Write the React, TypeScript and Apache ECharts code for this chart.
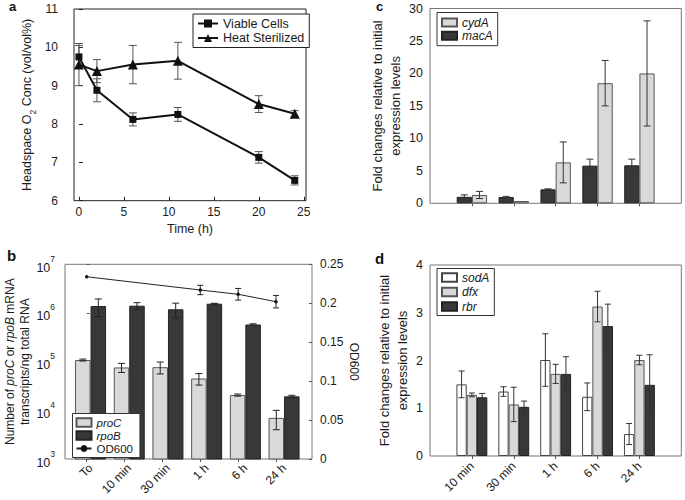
import React, { useEffect, useRef } from 'react';
import * as echarts from 'echarts';

// ---------- Panel a ----------
const timeH = [0, 2, 6, 11, 20, 24];
const viableCells = [9.75, 8.88, 8.12, 8.25, 7.13, 6.53];
const viableErr = [0.3, 0.3, 0.17, 0.18, 0.15, 0.12];
const heatSterilized = [9.55, 9.38, 9.55, 9.65, 8.52, 8.27];
const heatErr = [0.55, 0.3, 0.5, 0.48, 0.22, 0.08];
const aTicks = [0, 5, 10, 15, 20, 25];

// ---------- Panel b ----------
const bCategories = ['To', '10 min', '30 min', '1 h', '6 h', '24 h'];
const proC = [1.08e5, 7.6e4, 7.7e4, 4.5e4, 2.06e4, 7.0e3];
const proCErr = [5e3, 1.6e4, 2.1e4, 1.2e4, 1e3, 3e3];
const rpoB = [1.39e6, 1.41e6, 1.19e6, 1.55e6, 5.8e5, 1.94e4];
const rpoBErr = [5.5e5, 2.2e5, 4.0e5, 3e4, 2e4, 1e3];
const od600 = [0.234, null, null, 0.217, 0.2115, 0.202];
const od600Err = [0, null, null, 0.006, 0.0075, 0.008];

// ---------- Panels c, d ----------
const cdCategories = ['10 min', '30 min', '1 h', '6 h', '24 h'];
const cydA = [1.28, 0.35, 6.3, 18.5, 20.0];
const cydAErr = [0.55, 0, 3.15, 3.5, 8.1];
const macA = [1.0, 0.97, 2.15, 5.8, 5.85];
const macAErr = [0.3, 0.1, 0.08, 1.0, 0.95];
const sodA = [1.5, 1.35, 2.01, 1.24, 0.46];
const sodAErr = [0.28, 0.1, 0.55, 0.29, 0.22];
const dfx = [1.28, 1.08, 1.72, 3.13, 2.01];
const dfxErr = [0.04, 0.36, 0.2, 0.32, 0.1];
const rbr = [1.23, 1.03, 1.72, 2.72, 1.49];
const rbrErr = [0.08, 0.12, 0.36, 0.46, 0.63];

const FONT = 'Liberation Sans, Arial, Helvetica, sans-serif';
const LIGHT = '#d9d9d9';
const DARK = '#383838';
const TXT = '#1a1a1a';

type ErrItem = [number, number, number];

function errorSeries(
  name: string,
  xAxisIndex: number,
  yAxisIndex: number,
  data: ErrItem[],
  offset: number,
  cap: number,
  color: string
) {
  return {
    type: 'custom',
    name,
    xAxisIndex,
    yAxisIndex,
    silent: true,
    z: 5,
    data,
    encode: { x: 0, y: [1, 2] },
    renderItem: (_p: any, api: any) => {
      const x = api.value(0);
      const lo = api.coord([x, api.value(1)]);
      const hi = api.coord([x, api.value(2)]);
      const cx = lo[0] + offset;
      const style = { stroke: color, lineWidth: 1, fill: 'none' };
      return {
        type: 'group',
        children: [
          { type: 'line', shape: { x1: cx, y1: lo[1], x2: cx, y2: hi[1] }, style },
          { type: 'line', shape: { x1: cx - cap / 2, y1: lo[1], x2: cx + cap / 2, y2: lo[1] }, style },
          { type: 'line', shape: { x1: cx - cap / 2, y1: hi[1], x2: cx + cap / 2, y2: hi[1] }, style },
        ],
      };
    },
  };
}

function errs(vals: (number | null)[], e: (number | null)[], xs: number[]): ErrItem[] {
  const out: ErrItem[] = [];
  vals.forEach((v, i) => {
    const er = e[i];
    if (v == null || er == null || er <= 0) return;
    out.push([xs[i], v - er, v + er]);
  });
  return out;
}

const pad = (arr: number[]) => [null, ...arr, null];
const cdAxisData = ['', ...cdCategories, ''];
const cdIdx = cdCategories.map((_, i) => i + 1);
const inner = (i: number) => i > 0 && i < cdAxisData.length - 1;

const legendText = (size: number, italic: boolean) => ({
  fontSize: size,
  fontStyle: italic ? 'italic' : 'normal',
  color: TXT,
  fontFamily: FONT,
});

function buildOption(): any {
  const bIdx = bCategories.map((_, i) => i);
  const odData = od600
    .map((v, i) => (v == null ? null : [i, v]))
    .filter((d) => d != null);

  return {
    animation: false,
    backgroundColor: '#fff',
    textStyle: { fontFamily: FONT, color: TXT },
    grid: [
      { left: 74, top: 9, width: 232, height: 191.7, show: true, borderColor: '#222', borderWidth: 1, backgroundColor: 'transparent' },
      { left: 65, top: 264.3, width: 247, height: 194.7, show: true, borderColor: '#777', borderWidth: 1, backgroundColor: 'transparent' },
      { left: 71.2, top: 264.3, width: 232.2, height: 194.7, show: false },
      { left: 430, top: 8.5, width: 251.3, height: 194.8, show: true, borderColor: '#777', borderWidth: 1, backgroundColor: 'transparent' },
      { left: 430, top: 265, width: 251.3, height: 191, show: true, borderColor: '#777', borderWidth: 1, backgroundColor: 'transparent' },
    ],
    xAxis: [
      {
        type: 'value', gridIndex: 0, min: -0.55, max: 25.25,
        axisLine: { show: false }, splitLine: { show: false },
        axisTick: { inside: true, length: 4, lineStyle: { color: '#222' }, customValues: aTicks },
        axisLabel: { fontSize: 12, color: TXT, margin: 5, customValues: aTicks },
        name: 'Time (h)', nameLocation: 'middle', nameGap: 22,
        nameTextStyle: { fontSize: 12.5, color: TXT },
      },
      {
        type: 'value', gridIndex: 1, position: 'top', min: -0.573, max: 5.951,
        axisLine: { show: false }, splitLine: { show: false },
        axisTick: { inside: true, length: 3, lineStyle: { color: '#555' }, customValues: bIdx },
        axisLabel: { show: false },
      },
      {
        type: 'category', gridIndex: 2, data: bCategories,
        axisLine: { show: false }, axisTick: { show: false },
        axisLabel: { rotate: 45, fontSize: 12, color: TXT, margin: 7, interval: 0 },
      },
      {
        type: 'category', gridIndex: 3, data: cdAxisData, boundaryGap: false,
        axisLine: { show: false },
        axisTick: { show: true, inside: false, length: 3, interval: (i: number) => inner(i), lineStyle: { color: '#555' } },
        axisLabel: { show: false },
      },
      {
        type: 'category', gridIndex: 4, data: cdAxisData, boundaryGap: false,
        axisLine: { show: false },
        axisTick: { show: true, inside: false, length: 3, interval: (i: number) => inner(i), lineStyle: { color: '#555' } },
        axisLabel: { rotate: 45, fontSize: 12, color: TXT, margin: 8, interval: (i: number) => inner(i) },
      },
    ],
    yAxis: [
      {
        type: 'value', gridIndex: 0, min: 6, max: 11, interval: 1,
        axisLine: { show: false }, splitLine: { show: false },
        axisTick: { inside: true, length: 4, lineStyle: { color: '#222' } },
        axisLabel: { fontSize: 12, color: TXT, margin: 16 },
        name: '{n|Headspace O}{s|2}{n| Conc (vol/vol%)}',
        nameLocation: 'middle', nameGap: 37,
        nameTextStyle: {
          rich: {
            n: { fontSize: 12.5, color: TXT, verticalAlign: 'top', lineHeight: 17, fontFamily: FONT },
            s: { fontSize: 8.5, color: TXT, verticalAlign: 'bottom', lineHeight: 17, fontFamily: FONT },
          },
        },
      },
      {
        type: 'log', gridIndex: 1, min: 1e3, max: 1e7, logBase: 10,
        axisLine: { show: false }, splitLine: { show: false },
        axisTick: { inside: true, length: 3, lineStyle: { color: '#555' } },
        axisLabel: {
          margin: 10,
          formatter: (v: number) => '{b|10}{s|' + String(Math.round(Math.log10(v))) + '}',
          rich: {
            b: { fontSize: 12.5, color: TXT, verticalAlign: 'bottom', lineHeight: 20, fontFamily: FONT },
            s: { fontSize: 8.5, color: TXT, verticalAlign: 'top', lineHeight: 20, fontFamily: FONT },
          },
        },
        name: 'Number of {i|proC} or {i|rpoB} mRNA\ntranscripts/ng total RNA',
        nameLocation: 'middle', nameGap: 32,
        nameTextStyle: {
          fontSize: 12, color: TXT, lineHeight: 15,
          rich: { i: { fontSize: 12, fontStyle: 'italic', color: TXT, lineHeight: 15, fontFamily: FONT } },
        },
      },
      {
        type: 'value', gridIndex: 1, position: 'right', min: 0, max: 0.25, interval: 0.05,
        axisLine: { show: false }, splitLine: { show: false },
        axisTick: { inside: true, length: 3, lineStyle: { color: '#555' } },
        axisLabel: { fontSize: 12, color: TXT, margin: 8 },
        name: 'OD600', nameLocation: 'middle', nameGap: 36, nameRotate: -90,
        nameTextStyle: { fontSize: 12, color: TXT },
      },
      {
        type: 'log', gridIndex: 2, min: 1e3, max: 1e7, logBase: 10, show: false,
      },
      {
        type: 'value', gridIndex: 3, min: 0, max: 30, interval: 5,
        axisLine: { show: false }, splitLine: { show: false },
        axisTick: { show: false },
        axisLabel: { fontSize: 12.5, color: TXT, margin: 7 },
        name: 'Fold changes relative to initial\nexpression levels',
        nameLocation: 'middle', nameGap: 26,
        nameTextStyle: { fontSize: 13, color: TXT, lineHeight: 18 },
      },
      {
        type: 'value', gridIndex: 4, min: 0, max: 4, interval: 1,
        axisLine: { show: false }, splitLine: { show: false },
        axisTick: { show: false },
        axisLabel: { fontSize: 12.5, color: TXT, margin: 7 },
        name: 'Fold changes relative to initial\nexpression levels',
        nameLocation: 'middle', nameGap: 19,
        nameTextStyle: { fontSize: 13, color: TXT, lineHeight: 18 },
      },
    ],
    legend: [
      {
        orient: 'vertical', left: 193, top: 14, padding: [3, 5, 3, 4], itemGap: 1.5,
        itemWidth: 20, itemHeight: 10, borderColor: '#222', borderWidth: 1, backgroundColor: '#fff',
        textStyle: legendText(12.5, false), selectedMode: false,
        data: ['Viable Cells', 'Heat Sterilized'],
      },
      {
        orient: 'vertical', left: 72.5, top: 413.5, padding: [3, 7, 3, 3], itemGap: 1,
        itemWidth: 15, itemHeight: 8.5, borderColor: '#333', borderWidth: 1, backgroundColor: '#fff',
        textStyle: legendText(11.5, true), selectedMode: false,
        data: [
          { name: 'proC', icon: 'rect' },
          { name: 'rpoB', icon: 'rect' },
          { name: 'OD600', textStyle: legendText(11.5, false) },
        ],
      },
      {
        orient: 'vertical', left: 437, top: 12.5, padding: [4, 5, 4, 4], itemGap: 1.2,
        itemWidth: 15, itemHeight: 8, borderColor: '#333', borderWidth: 1, backgroundColor: '#fff',
        textStyle: legendText(12, true), selectedMode: false, icon: 'rect',
        data: ['cydA', 'macA'],
      },
      {
        orient: 'vertical', left: 437, top: 268.5, padding: [3, 5, 3, 4], itemGap: 2.5,
        itemWidth: 15, itemHeight: 8.5, borderColor: '#333', borderWidth: 1, backgroundColor: '#fff',
        textStyle: legendText(12, true), selectedMode: false, icon: 'rect',
        data: ['sodA', 'dfx', 'rbr'],
      },
    ],
    series: [
      // Panel a
      errorSeries('errViable', 0, 0, errs(viableCells, viableErr, timeH), 0, 8, '#555'),
      errorSeries('errHeat', 0, 0, errs(heatSterilized, heatErr, timeH), 0, 8, '#555'),
      {
        type: 'line', name: 'Viable Cells', xAxisIndex: 0, yAxisIndex: 0, z: 6,
        data: timeH.map((t, i) => [t, viableCells[i]]),
        symbol: 'rect', symbolSize: 7, color: '#111',
        lineStyle: { width: 2, color: '#111' }, itemStyle: { color: '#111' },
      },
      {
        type: 'line', name: 'Heat Sterilized', xAxisIndex: 0, yAxisIndex: 0, z: 6,
        data: timeH.map((t, i) => [t, heatSterilized[i]]),
        symbol: 'triangle', symbolSize: 10, color: '#111',
        lineStyle: { width: 2, color: '#111' }, itemStyle: { color: '#111' },
      },
      // Panel b
      {
        type: 'bar', name: 'proC', xAxisIndex: 2, yAxisIndex: 3, data: proC,
        barWidth: 15.5, barGap: '0%', clip: true,
        itemStyle: { color: LIGHT, borderColor: '#555', borderWidth: 1 },
      },
      {
        type: 'bar', name: 'rpoB', xAxisIndex: 2, yAxisIndex: 3, data: rpoB,
        barWidth: 15.5, barGap: '0%', clip: true,
        itemStyle: { color: DARK, borderColor: '#222', borderWidth: 1 },
      },
      errorSeries('errProC', 2, 3, errs(proC, proCErr, bIdx), -7.75, 7, '#222'),
      errorSeries('errRpoB', 2, 3, errs(rpoB, rpoBErr, bIdx), 7.75, 7, '#222'),
      {
        type: 'line', name: 'OD600', xAxisIndex: 1, yAxisIndex: 2, z: 6,
        data: odData, symbol: 'circle', symbolSize: 3.5, color: '#111',
        lineStyle: { width: 1, color: '#222' }, itemStyle: { color: '#111' },
      },
      errorSeries('errOD', 1, 2, errs(od600, od600Err, bIdx), 0, 6, '#222'),
      // Panel c
      {
        type: 'bar', name: 'macA', xAxisIndex: 3, yAxisIndex: 4, data: pad(macA),
        barWidth: 15.2, barGap: '0%',
        itemStyle: { color: DARK, borderColor: '#222', borderWidth: 1 },
      },
      {
        type: 'bar', name: 'cydA', xAxisIndex: 3, yAxisIndex: 4, data: pad(cydA),
        barWidth: 15.2, barGap: '0%',
        itemStyle: { color: LIGHT, borderColor: '#555', borderWidth: 1 },
      },
      errorSeries('errMacA', 3, 4, errs(macA, macAErr, cdIdx), -7.6, 7, '#333'),
      errorSeries('errCydA', 3, 4, errs(cydA, cydAErr, cdIdx), 7.6, 7, '#333'),
      // Panel d
      {
        type: 'bar', name: 'sodA', xAxisIndex: 4, yAxisIndex: 5, data: pad(sodA),
        barWidth: 10.3, barGap: '0%',
        itemStyle: { color: '#fff', borderColor: '#444', borderWidth: 1 },
      },
      {
        type: 'bar', name: 'dfx', xAxisIndex: 4, yAxisIndex: 5, data: pad(dfx),
        barWidth: 10.3, barGap: '0%',
        itemStyle: { color: LIGHT, borderColor: '#555', borderWidth: 1 },
      },
      {
        type: 'bar', name: 'rbr', xAxisIndex: 4, yAxisIndex: 5, data: pad(rbr),
        barWidth: 10.3, barGap: '0%',
        itemStyle: { color: DARK, borderColor: '#222', borderWidth: 1 },
      },
      errorSeries('errSodA', 4, 5, errs(sodA, sodAErr, cdIdx), -10.3, 6, '#333'),
      errorSeries('errDfx', 4, 5, errs(dfx, dfxErr, cdIdx), 0, 6, '#333'),
      errorSeries('errRbr', 4, 5, errs(rbr, rbrErr, cdIdx), 10.3, 6, '#333'),
    ],
    graphic: [
      { type: 'text', left: 9, top: 0, style: { text: 'a', fontSize: 13, fontWeight: 'bold', fill: '#111', fontFamily: FONT } },
      { type: 'text', left: 7, top: 248, style: { text: 'b', fontSize: 15, fontWeight: 'bold', fill: '#111', fontFamily: FONT } },
      { type: 'text', left: 376, top: 0, style: { text: 'c', fontSize: 13, fontWeight: 'bold', fill: '#111', fontFamily: FONT } },
      { type: 'text', left: 375, top: 251, style: { text: 'd', fontSize: 15, fontWeight: 'bold', fill: '#111', fontFamily: FONT } },
    ],
  };
}

export default function App() {
  const ref = useRef<HTMLDivElement>(null);
  useEffect(() => {
    if (!ref.current) return;
    const chart = echarts.init(ref.current, null, { renderer: 'svg' });
    chart.setOption(buildOption());
    return () => chart.dispose();
  }, []);
  return (
    <div
      ref={ref}
      style={{ position: 'fixed', left: 0, top: 0, width: 685, height: 500, background: '#fff' }}
    />
  );
}
